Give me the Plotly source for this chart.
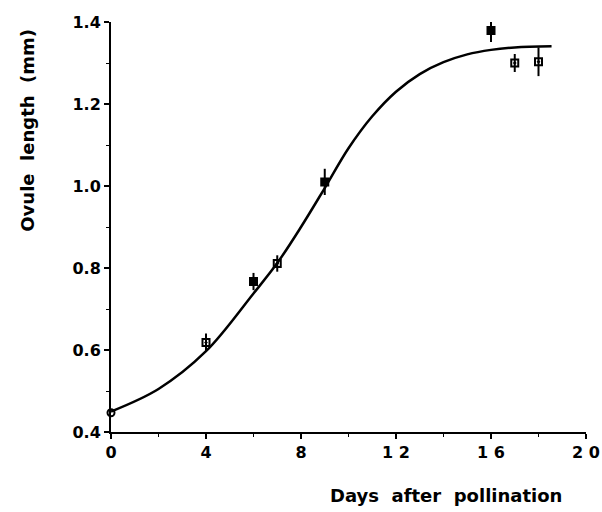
import plotly.graph_objects as go

# Observed means (days after pollination)
days_obs = [0, 4, 6, 7, 9, 16, 17, 18]
length_obs = [0.447, 0.618, 0.767, 0.811, 1.010, 1.379, 1.300, 1.303]
err_obs = [0.0, 0.022, 0.021, 0.02, 0.032, 0.028, 0.022, 0.035]
filled = [False, False, True, False, True, True, False, False]

# Fitted curve
days_fit = [0, 2, 4, 6, 7, 8, 9, 10, 11, 12, 13, 14, 15, 16, 17, 18.55]
length_fit = [0.45, 0.505, 0.597, 0.738, 0.812, 0.900, 0.995, 1.092, 1.170, 1.230,
              1.273, 1.302, 1.321, 1.332, 1.338, 1.341]

x_ticks = [0, 4, 8, 12, 16, 20]
y_ticks = [0.4, 0.6, 0.8, 1.0, 1.2, 1.4]

font_family = "DejaVu Sans, Liberation Sans, Arial, sans-serif"

fig = go.Figure()
fig.add_trace(go.Scatter(
    x=days_fit, y=length_fit, mode="lines",
    line=dict(color="black", width=2.5, shape="spline", smoothing=1.0),
    hoverinfo="skip", showlegend=False,
))

sym = []
for i, d in enumerate(days_obs):
    if d == 0:
        sym.append("circle-open")
    elif filled[i]:
        sym.append("square")
    else:
        sym.append("square-open-dot")

fig.add_trace(go.Scatter(
    x=days_obs, y=length_obs, mode="markers",
    marker=dict(symbol=sym, size=7, color="black", line=dict(color="black", width=2)),
    error_y=dict(type="data", array=err_obs, visible=True, color="black",
                 thickness=2, width=0),
    cliponaxis=False, showlegend=False,
))

fig.update_layout(
    width=602, height=512,
    margin=dict(l=111, r=16, t=22, b=80),
    paper_bgcolor="white", plot_bgcolor="white",
    font=dict(family=font_family, color="black", size=16),
    showlegend=False,
)
fig.update_xaxes(
    range=[0, 20], tickvals=x_ticks, automargin=False,
    ticktext=[str(v) if v < 10 else " ".join(str(v)) for v in x_ticks],
    showline=True, linecolor="black", linewidth=2,
    ticks="outside", ticklen=5, tickwidth=1.5, tickcolor="black",
    minor=dict(dtick=2, ticks="outside", ticklen=3, tickcolor="black", tickwidth=1),
    showgrid=False, zeroline=False,
    tickfont=dict(size=16, family=font_family, weight="bold"),
)
fig.update_yaxes(
    range=[0.4, 1.4], tickvals=y_ticks, automargin=False,
    ticktext=[f"{v:.1f}" for v in y_ticks],
    showline=True, linecolor="black", linewidth=2,
    ticks="outside", ticklen=5, tickwidth=1.5, tickcolor="black",
    minor=dict(dtick=0.1, ticks="outside", ticklen=3, tickcolor="black", tickwidth=1),
    showgrid=False, zeroline=False,
    tickfont=dict(size=16, family=font_family, weight="bold"),
)

fig.add_annotation(
    text="<b>Days  after  pollination</b>", xref="paper", yref="paper",
    x=0.705, y=-0.156, xanchor="center", yanchor="middle", showarrow=False,
    font=dict(size=18, family=font_family),
)
fig.add_annotation(
    text="<b>Ovule  length  (mm)</b>", xref="paper", yref="paper",
    x=-0.175, y=0.737, xanchor="center", yanchor="middle", showarrow=False,
    textangle=-90, font=dict(size=18, family=font_family),
)

fig.write_html(
    "out.html",
    config={"displayModeBar": False},
    post_script="document.body.style.margin='0';document.body.style.overflow='hidden';",
)
